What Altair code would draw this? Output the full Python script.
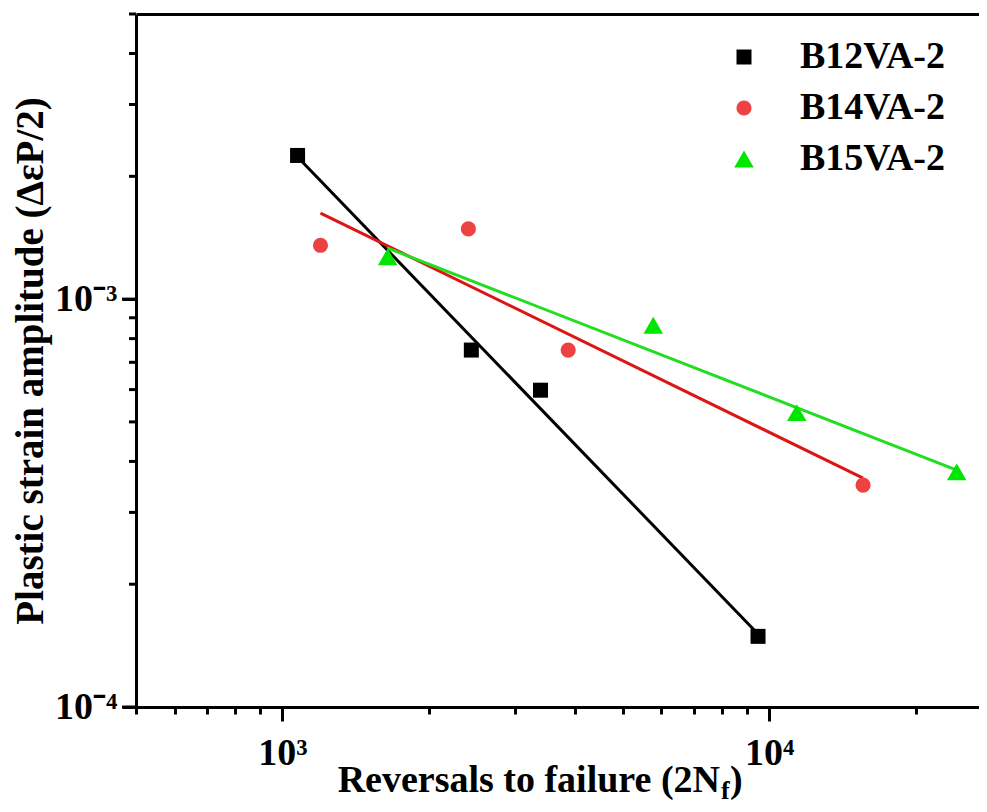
import altair as alt
import pandas as pd

# ---------------- data ----------------
series = ["B12VA-2", "B14VA-2", "B15VA-2"]
point_colors = ["#000000", "#ee4242", "#00e600"]
line_colors = ["#000000", "#dc1515", "#22dd22"]
shapes = ["square", "circle", "triangle-up"]
marker_sizes = [225, 230, 380]

b12_x = [1074, 2444, 3390, 9490]
b12_y = [2.25e-3, 7.5e-4, 5.98e-4, 1.49e-4]
b14_x = [1197, 2410, 3865, 15600]
b14_y = [1.355e-3, 1.486e-3, 7.5e-4, 3.50e-4]
b15_x = [1645, 5780, 11400, 24300]
b15_y = [1.27e-3, 8.63e-4, 5.27e-4, 3.77e-4]

# fitted lines (start / end points)
fit_x_start = [1074, 1197, 1645]
fit_y_start = [2.23e-3, 1.625e-3, 1.334e-3]
fit_x_end = [9490, 15600, 24300]
fit_y_end = [1.51e-4, 3.64e-4, 3.81e-4]

x_ticks = [500, 600, 700, 800, 900, 1000, 2000, 3000, 4000, 5000, 6000,
           7000, 8000, 9000, 10000, 20000]
y_minor_ticks = [2e-4, 3e-4, 4e-4, 5e-4, 6e-4, 7e-4, 8e-4, 9e-4,
                 2e-3, 3e-3, 4e-3, 5e-3]
y_major_ticks = [1e-4, 1e-3]
x_domain = [500, 27000]
y_domain = [1e-4, 5e-3]

y_title = "Plastic strain amplitude (ΔεP/2)"
x_title_main = "Reversals to failure (2N"
x_title_sub = "f"
x_title_end = ")"

# ---------------- tables ----------------
rows = []
for name, xs, ys in zip(series, [b12_x, b14_x, b15_x], [b12_y, b14_y, b15_y]):
    for xv, yv in zip(xs, ys):
        rows.append({"series": name, "reversals": xv, "strain": yv})
points_df = pd.DataFrame(rows)

fit_df = pd.DataFrame({
    "fit": series,
    "x1": fit_x_start, "y1": fit_y_start,
    "x2": fit_x_end, "y2": fit_y_end,
})
y_minor_df = pd.DataFrame({"tick": y_minor_ticks})
y_major_df = pd.DataFrame({"tick": y_major_ticks})

FONT = "Liberation Serif"
xscale = alt.Scale(type="log", domain=x_domain, nice=False)
yscale = alt.Scale(type="log", domain=y_domain, nice=False)

x_major_test = "datum.value == 1000 || datum.value == 10000"

# y axis: domain line, decade labels and title
yaxis_major = alt.Axis(
    orient="left",
    values=y_major_ticks,
    labelExpr="datum.value > 0.0005 ? '10⁻³' : '10⁻⁴'",
    ticks=True,
    tickSize=14,
    tickWidth=3,
    tickColor="black",
    labelPadding=5,
    labelOverlap=False,
    labelFlush=False,
    domain=True,
    title=y_title,
    titleFontSize=39,
    titlePadding=4,
    grid=False,
)

xaxis = alt.Axis(
    orient="bottom",
    values=x_ticks,
    labelExpr="datum.value == 1000 ? '10³' : datum.value == 10000 ? '10⁴' : ''",
    tickSize={"condition": {"test": x_major_test, "value": 14}, "value": 7},
    labelPadding=13,
    labelOverlap=False,
    labelFlush=False,
    title=None,
    grid=False,
)

legend = alt.Legend(
    title=None, orient="none", legendX=589, legendY=24,
    labelFont=FONT, labelFontSize=38, labelFontWeight="bold",
    labelColor="black", labelOffset=37, rowPadding=13,
    symbolStrokeWidth=0, padding=0, symbolOpacity=1, symbolSize=240,
)

line_layers = []
for i, name in enumerate(series):
    if i == 0:
        x_axis = alt.Axis(orient="top", labels=False, ticks=False, title=None,
                          grid=False, domainWidth=3, domainColor="black")
        y_axis = yaxis_major
    else:
        x_axis = None
        y_axis = None
    line_layers.append(
        alt.Chart(fit_df).transform_filter(alt.datum.fit == name)
        .mark_rule(strokeWidth=3, color=line_colors[i])
        .encode(
            x=alt.X("x1:Q", scale=xscale, axis=x_axis),
            x2="x2:Q",
            y=alt.Y("y1:Q", scale=yscale, axis=y_axis),
            y2="y2:Q",
        )
    )

# y tick marks placed through the y scale (minor and decade ticks)
y_minor_rules = alt.Chart(y_minor_df).mark_rule(
    strokeWidth=3, color="black", clip=False
).encode(
    y=alt.Y("tick:Q", scale=yscale, axis=None),
    x=alt.value(-7), x2=alt.value(0),
)
y_major_rules = alt.Chart(y_major_df).mark_rule(
    strokeWidth=3, color="black", clip=False
).encode(
    y=alt.Y("tick:Q", scale=yscale, axis=None),
    x=alt.value(-14), x2=alt.value(0),
)

points = alt.Chart(points_df).mark_point(filled=True, opacity=1).encode(
    x=alt.X("reversals:Q", scale=xscale, axis=xaxis),
    y=alt.Y("strain:Q", scale=yscale, axis=None),
    color=alt.Color("series:N", scale=alt.Scale(domain=series, range=point_colors),
                    legend=legend),
    shape=alt.Shape("series:N", scale=alt.Scale(domain=series, range=shapes),
                    legend=legend),
    size=alt.Size("series:N",
                  scale=alt.Scale(type="ordinal", domain=series, range=marker_sizes),
                  legend=None),
)


def label(text, px, py, size, align):
    return alt.Chart(alt.Data(values=[{"k": 1}])).mark_text(
        text=text, font=FONT, fontSize=size, fontWeight="bold",
        align=align, baseline="alphabetic", color="black",
    ).encode(x=alt.value(px), y=alt.value(py))


t_main = label(x_title_main, 584, 778, 38, "right")
t_sub = label(x_title_sub, 585, 785, 26, "left")
t_end = label(x_title_end, 594, 778, 38, "left")

chart = alt.layer(
    *line_layers, points, y_minor_rules, y_major_rules, t_main, t_sub, t_end
).resolve_axis(
    x="independent", y="independent"
).properties(
    width=843, height=693,
    autosize=alt.AutoSizeParams(type="none"),
    padding={"left": 128, "top": 6, "right": 0, "bottom": 97},
    background="white",
).configure_view(
    stroke=None
).configure_axis(
    labelFont=FONT, labelFontSize=38, labelFontWeight="bold", labelColor="black",
    titleFont=FONT, titleFontWeight="bold", titleColor="black",
    domainColor="black", domainWidth=3, tickColor="black", tickWidth=3,
)

chart.save("out.html", embed_options={"renderer": "svg", "actions": False})
